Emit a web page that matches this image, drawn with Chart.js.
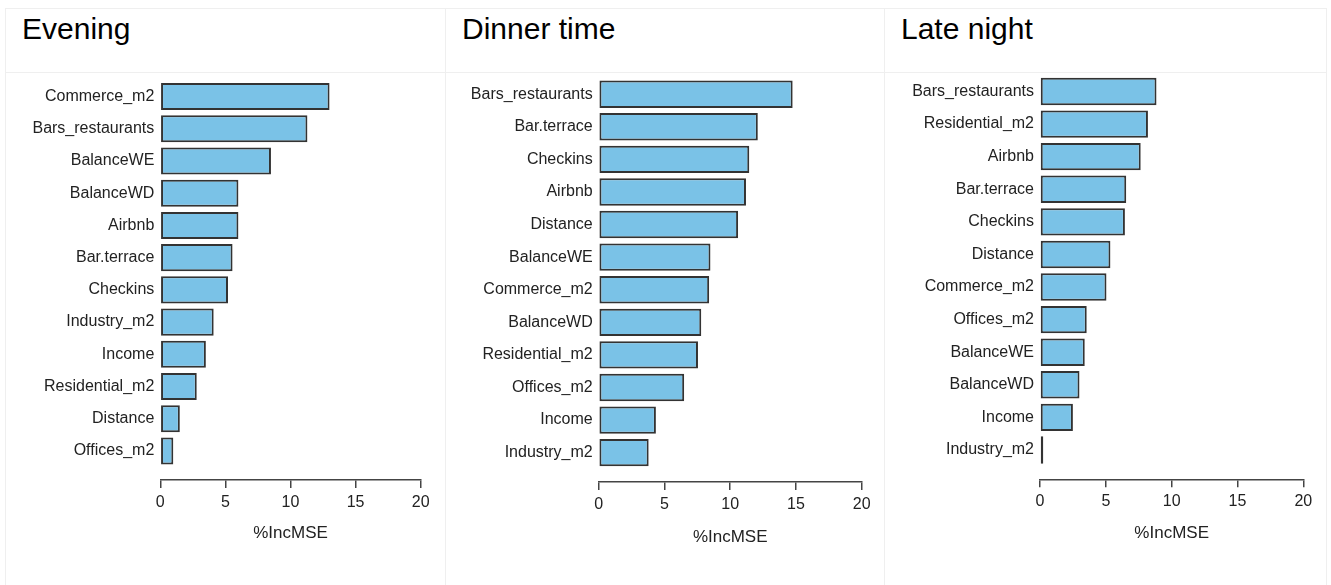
<!DOCTYPE html>
<html>
<head>
<meta charset="utf-8">
<script src="https://cdn.jsdelivr.net/npm/chart.js@4.4.1/dist/chart.umd.min.js"></script>
<style>
  body { margin: 0; background: #fff; font-family: "Liberation Sans", Arial, sans-serif; }
  #page { position: relative; width: 1331px; height: 585px; overflow: hidden; }
  .line { position: absolute; background: #efefef; }
  .title { position: absolute; top: 14px; font-size: 30px; line-height: 30px; color: #000; white-space: nowrap; }
  canvas { position: absolute; top: 72px; }
</style>
</head>
<body>
<div id="page">
  <div class="line" style="left:5px;top:8px;width:1322px;height:1px"></div>
  <div class="line" style="left:5px;top:72px;width:1322px;height:1px"></div>
  <div class="line" style="left:5px;top:8px;width:1px;height:577px"></div>
  <div class="line" style="left:445px;top:8px;width:1px;height:577px"></div>
  <div class="line" style="left:884px;top:8px;width:1px;height:577px"></div>
  <div class="line" style="left:1326px;top:8px;width:1px;height:577px"></div>

  <div class="title" style="left:22px">Evening</div>
  <div class="title" style="left:462px">Dinner time</div>
  <div class="title" style="left:901px">Late night</div>

  <canvas id="evening" width="440" height="513" style="left:5px"></canvas>
  <canvas id="dinner" width="439" height="513" style="left:445px"></canvas>
  <canvas id="late" width="442" height="513" style="left:884px"></canvas>
</div>
<script>
// variable importance (%IncMSE)
const eveningLabels = ['Commerce_m2', 'Bars_restaurants', 'BalanceWE', 'BalanceWD', 'Airbnb', 'Bar.terrace',
  'Checkins', 'Industry_m2', 'Income', 'Residential_m2', 'Distance', 'Offices_m2'];
const eveningValues = [13.0, 11.3, 8.5, 6.0, 6.0, 5.55, 5.2, 4.1, 3.5, 2.8, 1.5, 1.0];

const dinnerLabels = ['Bars_restaurants', 'Bar.terrace', 'Checkins', 'Airbnb', 'Distance', 'BalanceWE',
  'Commerce_m2', 'BalanceWD', 'Residential_m2', 'Offices_m2', 'Income', 'Industry_m2'];
const dinnerValues = [14.75, 12.1, 11.45, 11.2, 10.6, 8.5, 8.4, 7.8, 7.55, 6.5, 4.35, 3.8];

const lateLabels = ['Bars_restaurants', 'Residential_m2', 'Airbnb', 'Bar.terrace', 'Checkins', 'Distance',
  'Commerce_m2', 'Offices_m2', 'BalanceWE', 'BalanceWD', 'Income', 'Industry_m2'];
const lateValues = [8.85, 8.2, 7.65, 6.55, 6.45, 5.35, 5.05, 3.55, 3.4, 3.0, 2.5, 0.25];

const xMin = 0, xMax = 20, xStep = 5;
const axisTitle = '%IncMSE';

function makeChart(id, labels, values, box) {
  let ctx = document.getElementById(id).getContext('2d');
  return new Chart(ctx, {
    type: 'bar',
    data: {
      datasets: [{
        data: values.map((v, i) => ({ x: v, y: i })),
        backgroundColor: '#7ac2e7',
        borderColor: '#333333',
        borderWidth: 2,
        borderSkipped: false,
        categoryPercentage: 1,
        barPercentage: 0.84,
      }],
    },
    options: {
      indexAxis: 'y',
      responsive: false,
      animation: false,
      layout: { padding: { left: 0, right: box.right, top: box.top, bottom: 0 } },
      plugins: { legend: { display: false }, tooltip: { enabled: false } },
      scales: {
        y: {
          type: 'linear',
          reverse: true,
          offset: false,
          min: -0.5,
          max: 11.9,
          grid: { display: false, drawTicks: false, offset: false },
          border: { display: false },
          ticks: {
            stepSize: 1,
            includeBounds: false,
            maxTicksLimit: 30,
            autoSkip: false,
            padding: 6,
            color: '#222',
            font: { family: '"Liberation Sans", Arial, sans-serif', size: 16 },
            callback: (v) => labels[v] ?? '',
          },
          afterFit: (s) => { s.width = box.yWidth; s.paddingTop = 0; s.paddingBottom = 0; },
        },
        x: {
          min: xMin,
          max: xMax,
          grid: { drawOnChartArea: false, tickLength: 8, color: '#444', lineWidth: 1.5 },
          border: { color: '#444', width: 1.5 },
          ticks: {
            stepSize: xStep,
            padding: 5,
            color: '#222',
            font: { family: '"Liberation Sans", Arial, sans-serif', size: 16 },
          },
          title: {
            display: true,
            text: axisTitle,
            color: '#222',
            font: { family: '"Liberation Sans", Arial, sans-serif', size: 17 },
            padding: { top: 0, bottom: box.titleBottom },
          },
          afterFit: (s) => { s.height = box.xHeight; s.paddingLeft = 0; s.paddingRight = 0; },
        },
      },
    },
  });
}

makeChart('evening', eveningLabels, eveningValues, { yWidth: 155.3, right: 24.3, top: 8.4, xHeight: 105, titleBottom: 41.8 });
makeChart('dinner', dinnerLabels, dinnerValues, { yWidth: 153.7, right: 22.3, top: 5.9, xHeight: 103, titleBottom: 37.8 });
makeChart('late', lateLabels, lateValues, { yWidth: 156, right: 22.7, top: 3.2, xHeight: 105.7, titleBottom: 41.8 });
</script>
</body>
</html>
